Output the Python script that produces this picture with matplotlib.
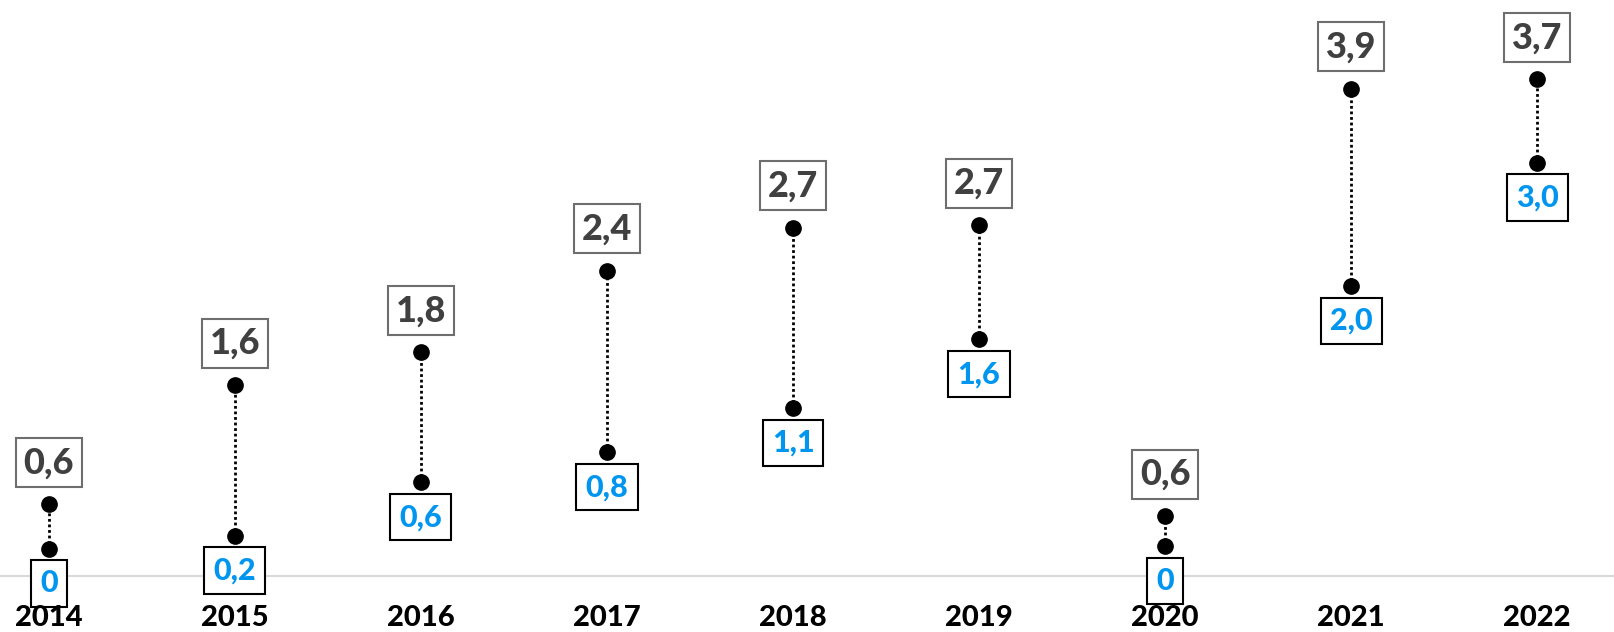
import matplotlib
matplotlib.use("Agg")
import matplotlib.pyplot as plt

plt.rcParams["font.family"] = ["Lato", "DejaVu Sans"]

years = ["2014", "2015", "2016", "2017", "2018", "2019", "2020", "2021", "2022"]
# values printed in the boxes
high_labels = [0.6, 1.6, 1.8, 2.4, 2.7, 2.7, 0.6, 3.9, 3.7]
low_labels = [0.0, 0.2, 0.6, 0.8, 1.1, 1.6, 0.0, 2.0, 3.0]
# dot heights as drawn on the chart (the original scale is not linear to the labels)
high_pos = [0.55, 1.47, 1.72, 2.35, 2.68, 2.70, 0.46, 3.75, 3.82]
low_pos = [0.21, 0.31, 0.72, 0.95, 1.29, 1.82, 0.23, 2.23, 3.18]

HIGH_TEXT = "#404040"
HIGH_EDGE = "#6e6e6e"
LOW_TEXT = "#0096f0"


def fmt(v):
    if v == 0:
        return "0"
    return f"{v:.1f}".replace(".", ",")


fig = plt.figure(figsize=(16.15, 6.32), dpi=100)
ax = fig.add_axes([0, 0, 1, 1])
ax.set_xlim(-0.263, 8.419)
ax.set_ylim(-0.431, 4.431)
ax.axis("off")

ax.axhline(0, color="#d9d9d9", lw=1.5, zorder=1)

x = list(range(len(years)))
for i in x:
    ax.plot([i, i], [low_pos[i], high_pos[i]], color="black", ls=(0, (1, 1)),
            lw=2, zorder=2)
ax.plot(x, high_pos, "o", color="black", ms=11, zorder=3)
ax.plot(x, low_pos, "o", color="black", ms=11, zorder=3)

for i in x:
    ax.annotate(fmt(high_labels[i]), (i, high_pos[i]), xytext=(0, 30),
                textcoords="offset points", ha="center", va="center",
                fontsize=26, fontweight="black", color=HIGH_TEXT, zorder=4,
                bbox=dict(boxstyle="square,pad=0.22", fc="white",
                          ec=HIGH_EDGE, lw=1.5))
    ax.annotate(fmt(low_labels[i]), (i, low_pos[i]), xytext=(0, -25),
                textcoords="offset points", ha="center", va="center",
                fontsize=22, fontweight="black", color=LOW_TEXT, zorder=4,
                bbox=dict(boxstyle="square,pad=0.3", fc="white",
                          ec="black", lw=1.5))
    ax.text(i, -0.32, years[i], ha="center", va="center", fontsize=21,
            fontweight="black", color="black", zorder=5)

fig.savefig("out.png", dpi=100)
